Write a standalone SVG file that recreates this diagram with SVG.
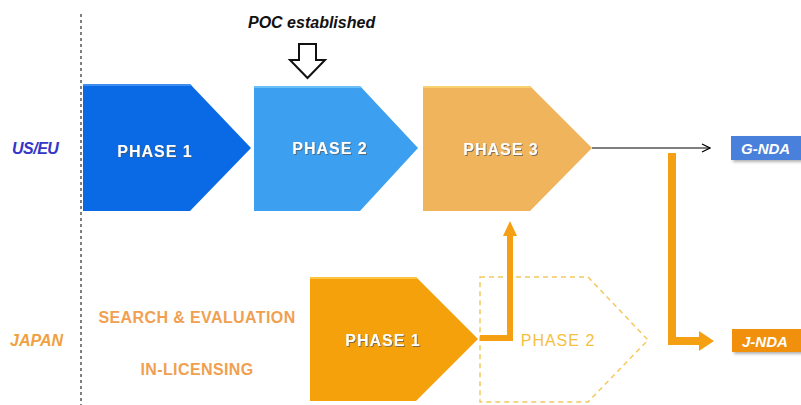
<svg xmlns="http://www.w3.org/2000/svg" width="801" height="405" viewBox="0 0 801 405">
<defs>
<style>
.ph{font-family:"Liberation Sans",Arial,sans-serif;font-weight:bold;font-size:16px;fill:#fff;letter-spacing:1px;text-anchor:middle}
.lbl{font-family:"Liberation Sans",Arial,sans-serif;font-weight:bold;font-style:italic;font-size:16px}
.org{font-family:"Liberation Sans",Arial,sans-serif;font-weight:bold;font-size:16px;fill:#f0a050;text-anchor:middle;letter-spacing:0.4px}
.nda{font-family:"Liberation Sans",Arial,sans-serif;font-weight:bold;font-style:italic;font-size:15px;fill:#fff}
</style>
<filter id="ts" x="-10%" y="-30%" width="130%" height="160%"><feDropShadow dx="1" dy="1" stdDeviation="0.6" flood-color="#555" flood-opacity="0.7"/></filter>
<filter id="bs" x="-10%" y="-20%" width="130%" height="150%"><feDropShadow dx="2" dy="2" stdDeviation="1.5" flood-color="#000" flood-opacity="0.3"/></filter>
<marker id="blk" markerWidth="10" markerHeight="10" refX="9" refY="5" orient="auto" markerUnits="userSpaceOnUse"><path d="M1,1 L9,5 L1,9" fill="none" stroke="#000" stroke-width="1.3"/></marker>
</defs>
<rect width="801" height="405" fill="#fff"/>
<line x1="81" y1="14" x2="81" y2="405" stroke="#555" stroke-width="1.5" stroke-dasharray="3,3"/>
<text class="lbl" x="12" y="154" fill="#3535c8" letter-spacing="-0.5">US/EU</text>
<text class="lbl" x="10" y="346" fill="#f0a040">JAPAN</text>
<g id="poc">
<text class="lbl" x="248" y="28" fill="#111" font-size="14">POC established</text>
<path d="M299,44 H316 V60 H325 L307.5,78 L290,60 H299 Z" fill="#fff" stroke="#111" stroke-width="2"/>
</g>
<g id="us-phase1">
<path d="M83,84 H190 L251,148 L190,211 H83 Z" fill="#0a6ae6"/>
<path d="M83,84 H190 L192,86 H83 Z" fill="#3d8ef0"/>
<text class="ph" x="155" y="157" filter="url(#ts)">PHASE  1</text>
</g>
<g id="us-phase2">
<path d="M254,86 H360 L418,148 L360,211 H254 Z" fill="#3c9ff0"/>
<path d="M254,86 H360 L362,88 H254 Z" fill="#6cc0f8"/>
<text class="ph" x="330" y="154" filter="url(#ts)">PHASE  2</text>
</g>
<g id="us-phase3">
<path d="M423,86 H530 L592,148 L530,211 H423 Z" fill="#f0b45c"/>
<path d="M423,86 H530 L532,88 H423 Z" fill="#f8d070"/>
<text class="ph" x="501" y="155" filter="url(#ts)">PHASE  3</text>
</g>
<g id="g-nda">
<rect x="731" y="136" width="75" height="24" fill="#4a80dc" filter="url(#bs)"/>
<text class="nda" x="741" y="154">G-NDA</text>
</g>
<g id="search">
<text class="org" x="197" y="323">SEARCH  &amp; EVALUATION</text>
<text class="org" x="197" y="375">IN-LICENSING</text>
</g>
<g id="jp-phase1">
<path d="M310,277 H416 L478,339 L416,401 H310 Z" fill="#f5a10c"/>
<path d="M310,277 H416 L418,279 H310 Z" fill="#fcc440"/>
<text class="ph" x="383" y="346" filter="url(#ts)">PHASE  1</text>
</g>
<g id="jp-phase2">
<path d="M480,277 H588 L648,340 L588,402 H480 Z" fill="none" stroke="#f5c860" stroke-width="1.5" stroke-dasharray="5,4"/>
<text x="558" y="346" font-family="'Liberation Sans',Arial,sans-serif" font-size="16" fill="#f5c040" letter-spacing="1" text-anchor="middle">PHASE  2</text>
</g>
<g id="j-nda">
<rect x="732" y="329" width="75" height="23" fill="#f0900c" filter="url(#bs)"/>
<text class="nda" x="742" y="347">J-NDA</text>
</g>
<g id="connectors">
<line x1="592" y1="148" x2="710" y2="148" stroke="#000" stroke-width="1.2" marker-end="url(#blk)"/>
<path d="M480,338 H510 V236" fill="none" stroke="#f5a012" stroke-width="6"/>
<path d="M503,236 L510,221 L517,236 Z" fill="#f5a012"/>
<path d="M672,153 V341 H700" fill="none" stroke="#f5a012" stroke-width="8"/>
<path d="M699,331 L714,341 L699,351 Z" fill="#f5a012"/>
</g>
</svg>
